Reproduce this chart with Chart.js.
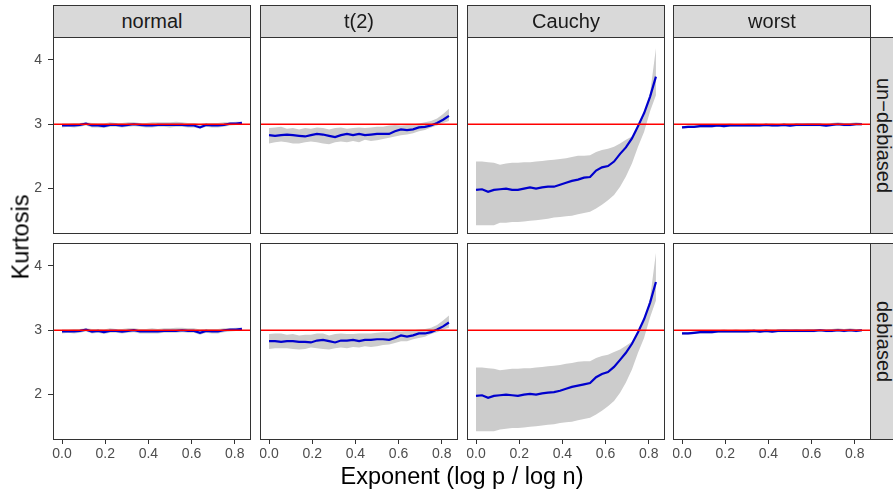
<!DOCTYPE html>
<html>
<head>
<meta charset="utf-8">
<script src="https://cdn.jsdelivr.net/npm/chart.js@4.4.0/dist/chart.umd.min.js"></script>
<style>
  body { margin: 0; background: #fff; font-family: "Liberation Sans", Arial, sans-serif; }
  #wrap { position: relative; width: 893px; height: 495px; overflow: hidden; }
  #wrap canvas { position: absolute; }
  .strip { position: absolute; background: #d9d9d9; border: 1px solid #333; box-sizing: border-box;
           color: #1a1a1a; font-size: 20px; display: flex; align-items: center; justify-content: center; }
  .strip.side span { writing-mode: vertical-rl; }
  .title { position: absolute; color: #000; font-size: 23.5px; white-space: nowrap; }
</style>
</head>
<body>
<div id="wrap"></div>
<script>
// ---- data ----
const exponent = [0, 0.028, 0.056, 0.083, 0.111, 0.139, 0.167, 0.194, 0.222, 0.25, 0.278, 0.306,
  0.333, 0.361, 0.389, 0.417, 0.444, 0.472, 0.5, 0.528, 0.556, 0.583, 0.611, 0.639, 0.667,
  0.694, 0.722, 0.75, 0.778, 0.806, 0.833];

const distributions = ["normal", "t(2)", "Cauchy", "worst"];
const methods = ["un\u2212debiased", "debiased"];
const reference = 3;
const xTicks = [0, 0.2, 0.4, 0.6, 0.8];
const yTicks = [2, 3, 4];

// un-debiased
const normalRawMean = [2.98,2.98,2.98,2.99,3.01,2.98,2.98,2.97,2.99,2.99,2.98,2.99,3.00,2.99,2.98,2.98,2.99,2.99,2.99,2.99,2.99,2.98,2.98,2.95,2.99,2.98,2.98,2.99,3.01,3.01,3.02];
const normalRawHi   = [3.01,3.01,3.02,3.02,3.03,3.02,3.01,3.01,3.03,3.02,3.02,3.03,3.03,3.02,3.02,3.03,3.03,3.03,3.03,3.04,3.03,3.02,3.02,3.00,3.02,3.02,3.02,3.03,3.03,3.04,3.04];
const normalRawLo   = [2.95,2.96,2.95,2.96,2.98,2.95,2.95,2.94,2.96,2.96,2.95,2.96,2.97,2.96,2.95,2.95,2.96,2.96,2.95,2.96,2.96,2.95,2.95,2.93,2.96,2.95,2.95,2.96,2.98,2.99,3.00];

const tRawMean = [2.83,2.82,2.83,2.84,2.83,2.82,2.81,2.83,2.85,2.84,2.82,2.80,2.83,2.85,2.83,2.85,2.83,2.84,2.85,2.85,2.85,2.89,2.92,2.91,2.92,2.95,2.96,2.98,3.02,3.07,3.13];
const tRawHi   = [2.94,2.95,2.96,2.93,2.94,2.92,2.94,2.93,2.95,2.94,2.92,2.94,2.95,2.93,2.94,2.95,2.94,2.95,2.96,2.96,2.98,2.99,2.98,2.99,3.00,3.01,3.03,3.05,3.09,3.16,3.24];
const tRawLo   = [2.70,2.72,2.73,2.72,2.70,2.70,2.72,2.73,2.72,2.70,2.69,2.72,2.73,2.72,2.74,2.72,2.76,2.74,2.75,2.77,2.79,2.81,2.83,2.84,2.86,2.89,2.91,2.95,2.98,3.02,3.05];

const cauchyRawMean = [1.98,1.99,1.95,1.98,1.99,2.00,1.98,1.98,2.00,2.02,2.00,2.02,2.03,2.03,2.06,2.09,2.12,2.14,2.17,2.18,2.28,2.33,2.35,2.42,2.54,2.64,2.78,2.97,3.17,3.43,3.74];
const cauchyRawHi   = [2.42,2.42,2.41,2.40,2.37,2.39,2.40,2.40,2.41,2.41,2.42,2.43,2.44,2.45,2.46,2.47,2.49,2.51,2.51,2.52,2.57,2.60,2.62,2.65,2.70,2.76,2.81,2.94,3.12,3.48,4.18];
const cauchyRawLo   = [1.43,1.43,1.43,1.43,1.47,1.47,1.48,1.48,1.49,1.50,1.51,1.52,1.53,1.55,1.56,1.57,1.58,1.60,1.62,1.64,1.69,1.75,1.82,1.90,2.03,2.19,2.39,2.65,2.88,3.20,3.45];

const worstRawMean = [2.95,2.96,2.96,2.97,2.97,2.97,2.98,2.97,2.98,2.98,2.98,2.98,2.98,2.98,2.99,2.98,2.98,2.99,2.98,2.99,2.99,2.99,2.99,2.99,2.98,2.99,3.00,2.99,2.99,3.00,3.00];
const worstRawHi   = [2.97,2.98,2.98,2.99,3.00,2.99,3.00,3.00,3.01,3.00,3.00,3.01,3.01,3.00,3.01,3.01,3.00,3.02,3.01,3.02,3.01,3.02,3.02,3.02,3.01,3.02,3.03,3.02,3.02,3.03,3.02];
const worstRawLo   = [2.93,2.94,2.94,2.95,2.95,2.95,2.96,2.95,2.96,2.96,2.96,2.96,2.96,2.96,2.97,2.96,2.96,2.97,2.96,2.97,2.97,2.97,2.97,2.97,2.96,2.97,2.98,2.97,2.97,2.98,2.98];

// debiased
const normalDebMean = [2.98,2.98,2.98,2.99,3.01,2.98,2.99,2.97,2.99,2.99,2.98,2.99,3.00,2.98,2.98,2.98,2.98,2.99,2.99,2.99,3.00,2.99,2.99,2.96,2.99,2.98,2.98,3.00,3.01,3.01,3.02];
const normalDebHi   = [3.01,3.01,3.02,3.02,3.03,3.02,3.02,3.01,3.03,3.02,3.02,3.03,3.03,3.02,3.02,3.03,3.02,3.03,3.03,3.04,3.04,3.03,3.03,3.01,3.02,3.02,3.02,3.03,3.03,3.04,3.04];
const normalDebLo   = [2.95,2.96,2.95,2.96,2.98,2.95,2.96,2.94,2.96,2.96,2.95,2.96,2.97,2.95,2.95,2.95,2.95,2.96,2.96,2.96,2.97,2.96,2.96,2.93,2.96,2.95,2.95,2.97,2.98,2.99,3.00];

const tDebMean = [2.83,2.83,2.82,2.83,2.83,2.82,2.82,2.81,2.84,2.85,2.83,2.81,2.84,2.84,2.85,2.83,2.85,2.85,2.86,2.86,2.85,2.88,2.92,2.90,2.92,2.95,2.95,2.97,3.01,3.06,3.12];
const tDebHi   = [2.94,2.95,2.95,2.93,2.94,2.92,2.93,2.93,2.95,2.95,2.92,2.94,2.95,2.94,2.94,2.95,2.95,2.95,2.96,2.97,2.97,2.99,2.98,2.99,3.00,3.01,3.02,3.04,3.08,3.15,3.23];
const tDebLo   = [2.71,2.72,2.72,2.72,2.71,2.70,2.71,2.73,2.72,2.71,2.70,2.72,2.73,2.72,2.74,2.73,2.75,2.74,2.75,2.77,2.78,2.80,2.83,2.83,2.86,2.88,2.90,2.94,2.97,3.01,3.04];

const cauchyDebMean = [1.98,1.99,1.95,1.98,1.99,2.00,1.99,1.98,2.00,2.01,2.00,2.02,2.03,2.04,2.06,2.09,2.12,2.14,2.16,2.18,2.27,2.32,2.35,2.43,2.54,2.65,2.79,2.97,3.17,3.43,3.75];
const cauchyDebHi   = [2.42,2.42,2.41,2.40,2.38,2.39,2.40,2.40,2.41,2.41,2.42,2.43,2.44,2.45,2.46,2.48,2.49,2.51,2.52,2.52,2.57,2.60,2.62,2.66,2.70,2.76,2.82,2.95,3.13,3.50,4.20];
const cauchyDebLo   = [1.43,1.43,1.43,1.43,1.46,1.47,1.48,1.48,1.49,1.50,1.51,1.52,1.53,1.54,1.56,1.57,1.58,1.60,1.62,1.64,1.69,1.75,1.82,1.90,2.03,2.19,2.39,2.65,2.88,3.20,3.46];

const worstDebMean = [2.95,2.95,2.96,2.97,2.97,2.97,2.98,2.98,2.98,2.98,2.98,2.98,2.99,2.98,2.99,2.98,2.99,2.99,2.99,2.99,2.99,2.99,2.99,3.00,2.99,2.99,3.00,2.99,3.00,2.99,3.00];
const worstDebHi   = [2.97,2.97,2.98,2.99,3.00,2.99,3.00,3.01,3.00,3.01,3.00,3.01,3.01,3.00,3.02,3.01,3.01,3.02,3.01,3.02,3.01,3.02,3.02,3.02,3.01,3.02,3.03,3.02,3.03,3.02,3.02];
const worstDebLo   = [2.93,2.93,2.94,2.95,2.95,2.95,2.96,2.96,2.96,2.96,2.96,2.96,2.97,2.96,2.97,2.96,2.97,2.97,2.97,2.97,2.97,2.97,2.97,2.98,2.97,2.97,2.98,2.97,2.98,2.97,2.98];

const panels = [
  [[normalRawMean, normalRawLo, normalRawHi], [tRawMean, tRawLo, tRawHi], [cauchyRawMean, cauchyRawLo, cauchyRawHi], [worstRawMean, worstRawLo, worstRawHi]],
  [[normalDebMean, normalDebLo, normalDebHi], [tDebMean, tDebLo, tDebHi], [cauchyDebMean, cauchyDebLo, cauchyDebHi], [worstDebMean, worstDebLo, worstDebHi]]
];

// ---- layout ----
const colLeft = [53, 260, 467, 673];
const rowTop = [37, 243];
const panelW = 198, panelH = 197;
const yAxisW = 53, xAxisH = 30;
const xMin = -0.0417, xMax = 0.875;
const yMin = 1.295, yMax = 4.355;

const wrap = document.getElementById("wrap");

const panelBorder = {
  id: "panelBorder",
  afterDraw(chart) {
    const a = chart.chartArea, ctx = chart.ctx;
    ctx.save();
    ctx.strokeStyle = "#333333";
    ctx.lineWidth = 1;
    ctx.strokeRect(a.left + 0.5, a.top + 0.5, a.right - a.left - 1, a.bottom - a.top - 1);
    ctx.restore();
  }
};

const pts = arr => exponent.map((x, i) => ({ x: x, y: arr[i] }));

function makePanel(r, c) {
  const [mean, lo, hi] = panels[r][c];
  const showY = c === 0, showX = r === 1;
  const cv = document.createElement("canvas");
  const w = panelW + (showY ? yAxisW : 0);
  const h = panelH + (showX ? xAxisH : 0);
  cv.width = w; cv.height = h;
  cv.style.left = (colLeft[c] - (showY ? yAxisW : 0)) + "px";
  cv.style.top = rowTop[r] + "px";
  wrap.appendChild(cv);

  new Chart(cv.getContext("2d"), {
    type: "line",
    data: {
      datasets: [
        { data: [{ x: xMin, y: reference }, { x: xMax, y: reference }], borderColor: "#ff0000", borderWidth: 1.6, pointRadius: 0 },
        { data: pts(mean), borderColor: "#0000cd", borderWidth: 2.2, pointRadius: 0, tension: 0 },
        { data: pts(hi), borderWidth: 0, pointRadius: 0, backgroundColor: "#cccccc", fill: "+1" },
        { data: pts(lo), borderWidth: 0, pointRadius: 0 }
      ]
    },
    options: {
      responsive: false,
      maintainAspectRatio: false,
      animation: false,
      devicePixelRatio: 1,
      layout: { padding: 0 },
      plugins: { legend: { display: false }, tooltip: { enabled: false } },
      scales: {
        x: {
          type: "linear", min: xMin, max: xMax, display: showX,
          afterBuildTicks: s => { s.ticks = xTicks.map(v => ({ value: v })); },
          afterFit: s => { if (showX) s.height = xAxisH; s.paddingLeft = 0; s.paddingRight = 0; },
          grid: { drawOnChartArea: false, drawTicks: true, tickLength: 4, color: "#333333" },
          border: { display: false },
          ticks: { color: "#4d4d4d", font: { size: 14, family: "Liberation Sans" }, padding: 2, maxRotation: 0,
                   callback: v => v.toFixed(1) }
        },
        y: {
          type: "linear", min: yMin, max: yMax, display: showY,
          afterBuildTicks: s => { s.ticks = yTicks.map(v => ({ value: v })); },
          afterFit: s => { if (showY) s.width = yAxisW; s.paddingTop = 0; s.paddingBottom = 0; },
          grid: { drawOnChartArea: false, drawTicks: true, tickLength: 5, color: "#333333" },
          border: { display: false },
          ticks: { color: "#4d4d4d", font: { size: 14, family: "Liberation Sans" }, padding: 6,
                   callback: v => String(v) }
        }
      }
    },
    plugins: [panelBorder]
  });
}

for (let r = 0; r < 2; r++) for (let c = 0; c < 4; c++) makePanel(r, c);

// strips
distributions.forEach((name, c) => {
  const d = document.createElement("div");
  d.className = "strip";
  d.style.left = colLeft[c] + "px"; d.style.top = "5px";
  d.style.width = panelW + "px"; d.style.height = (rowTop[0] - 5 + 1) + "px";
  d.textContent = name;
  wrap.appendChild(d);
});
methods.forEach((name, r) => {
  const d = document.createElement("div");
  d.className = "strip side";
  d.style.left = (colLeft[3] + panelW - 1) + "px"; d.style.top = rowTop[r] + "px";
  d.style.width = "27px"; d.style.height = panelH + "px";
  d.innerHTML = "<span>" + name + "</span>";
  wrap.appendChild(d);
});

// axis titles
const xt = document.createElement("div");
xt.className = "title"; xt.textContent = "Exponent (log p / log n)";
xt.style.left = "462px"; xt.style.top = "476px"; xt.style.transform = "translate(-50%, -50%)";
wrap.appendChild(xt);
const yt = document.createElement("div");
yt.className = "title"; yt.textContent = "Kurtosis";
yt.style.left = "21px"; yt.style.top = "237px"; yt.style.transform = "translate(-50%, -50%) rotate(-90deg)";
wrap.appendChild(yt);
</script>
</body>
</html>
